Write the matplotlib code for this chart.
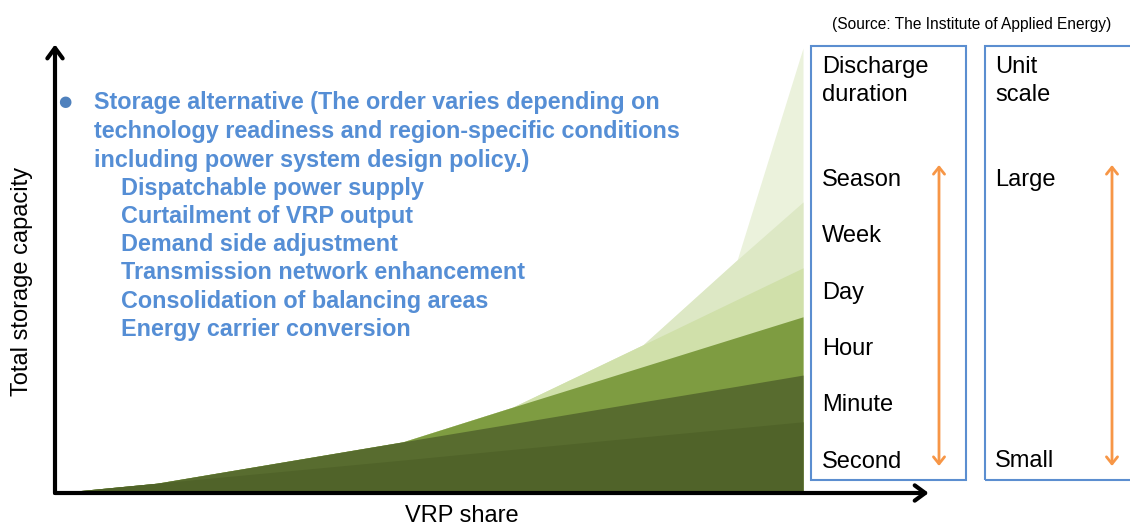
import matplotlib
matplotlib.use("Agg")
import matplotlib.pyplot as plt
from matplotlib import font_manager
from matplotlib.patches import Rectangle, FancyArrowPatch

W, H = 1130, 527

# VRP share grid (0-100) and top of each storage layer (0-100)
vrp_share = [0, 13.6, 46.5, 61.2, 78.6, 91.2, 100]
season = [0, 2.2, 11.5, 19.3, 33.3, 52.4, 100]
week = [0, 2.2, 11.5, 19.3, 33.3, 52.4, 65.4]
day = [0, 2.2, 11.5, 19.3, 33.3, 43.5, 50.6]
hour = [0, 2.2, 11.5, 19.3, 28.4, 35.0, 39.6]
minute = [0, 2.2, 11.5, 15.6, 20.5, 24.0, 26.5]
second = [0, 2.2, 7.4, 9.8, 12.6, 14.6, 16.0]

layers = [season, week, day, hour, minute, second]
layer_colors = ["#ebf2dc", "#dde8c5", "#d0e0aa", "#7e9c41", "#586c2f", "#506329"]

durations = ["Season", "Week", "Day", "Hour", "Minute", "Second"]
scales = ["Large", "Small"]

alternatives = [
    "Dispatchable power supply",
    "Curtailment of VRP output",
    "Demand side adjustment",
    "Transmission network enhancement",
    "Consolidation of balancing areas",
    "Energy carrier conversion",
]
header = ["Storage alternative (The order varies depending on",
          "technology readiness and region-specific conditions",
          "including power system design policy.)"]

names = {f.name for f in font_manager.fontManager.ttflist}
narrow = "Liberation Sans Narrow" if "Liberation Sans Narrow" in names else "Liberation Sans"
plt.rcParams["font.family"] = ["Liberation Sans", "DejaVu Sans"]


def fx(x):
    return x / W


def fy(y):
    return 1 - y / H


fig = plt.figure(figsize=(W / 100, H / 100), dpi=100)
ax = fig.add_axes([fx(55), fy(493), 748 / W, 445 / H])
for top, c in zip(layers, layer_colors):
    ax.fill_between(vrp_share, 0, top, color=c, lw=0)
ax.set_xlim(0, 100)
ax.set_ylim(0, 100)
ax.axis("off")

# axis arrows (open chevron heads)
arrow_kw = dict(arrowstyle="->,head_length=0.75,head_width=0.55", lw=3, color="black",
                shrinkA=0, shrinkB=0)
ax.annotate("", xy=(116.8, 0), xytext=(0, 0), xycoords="data",
            arrowprops=arrow_kw, annotation_clip=False)
ax.annotate("", xy=(0, 100.8), xytext=(0, 0), xycoords="data",
            arrowprops=arrow_kw, annotation_clip=False)

fig.text(fx(22), fy(281), "Total storage capacity", rotation=90, fontsize=17,
         ha="center", va="center")
fig.text(fx(462), fy(516), "VRP share", fontsize=17, ha="center", va="center")

# blue text block
blue = "#558ed5"
fig.text(fx(65), fy(102), "\u25cf", color="#4f81bd", fontsize=11, ha="center", va="center",
         family=["DejaVu Sans"])
for i, line in enumerate(header):
    fig.text(fx(94), fy(103 + 28.5 * i), line, color=blue, fontsize=16.8, fontweight="bold",
             family=[narrow], ha="left", va="center")
for i, line in enumerate(alternatives):
    fig.text(fx(121), fy(188 + 28.3 * i), line, color=blue, fontsize=16.8, fontweight="bold",
             family=[narrow], ha="left", va="center")

# source
fig.text(fx(972), fy(24), "(Source: The Institute of Applied Energy)", fontsize=11.2,
         ha="center", va="center")

# boxes
box_col = "#5b8ed0"
for x0, x1 in [(811, 966), (985, 1140)]:
    fig.add_artist(Rectangle((fx(x0), fy(480)), (x1 - x0) / W, (480 - 46) / H,
                             transform=fig.transFigure, fill=False, ec=box_col, lw=1.5))

fs = 17
fig.text(fx(822), fy(67), "Discharge", fontsize=fs, ha="left", va="center")
fig.text(fx(822), fy(95), "duration", fontsize=fs, ha="left", va="center")
fig.text(fx(995), fy(67), "Unit", fontsize=fs, ha="left", va="center")
fig.text(fx(995), fy(95), "scale", fontsize=fs, ha="left", va="center")
for i, d in enumerate(durations):
    fig.text(fx(822), fy(180 + 56.3 * i), d, fontsize=fs, ha="left", va="center")
fig.text(fx(995), fy(180), scales[0], fontsize=fs, ha="left", va="center")
fig.text(fx(995), fy(461), scales[1], fontsize=fs, ha="left", va="center")

for x in [939, 1112]:
    fig.add_artist(FancyArrowPatch((fx(x), fy(466)), (fx(x), fy(165)), transform=fig.transFigure,
                                   arrowstyle="<->,head_length=5,head_width=4", color="#f79646",
                                   lw=2, shrinkA=0, shrinkB=0))

fig.savefig("out.png", dpi=100)
